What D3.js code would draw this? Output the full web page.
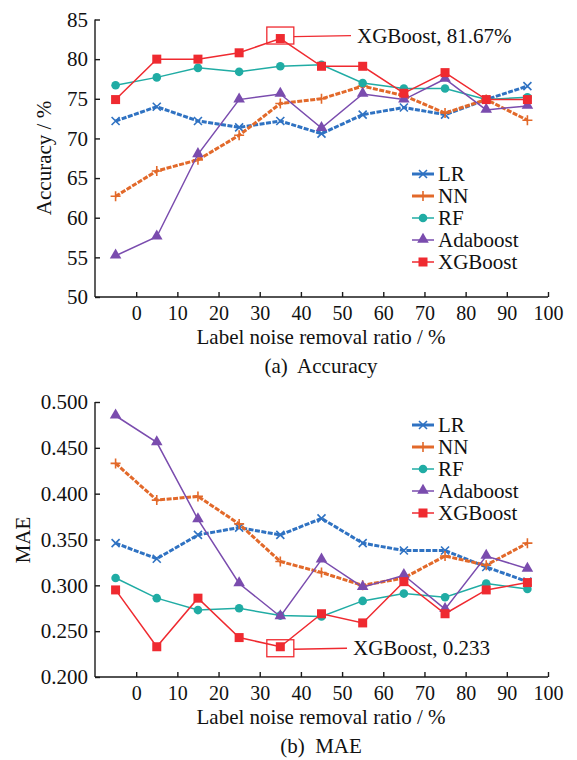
<!DOCTYPE html>
<html>
<head>
<meta charset="utf-8">
<script src="https://cdn.jsdelivr.net/npm/d3@7"></script>
<style>
  body { margin: 0; background: #fff; }
  svg text { font-family: "Liberation Serif", "Times New Roman", serif; fill: #111; }
</style>
</head>
<body>
<svg id="chart" width="577" height="760"></svg>
<script>
var ratios = [-5, 5, 15, 25, 35, 45, 55, 65, 75, 85, 95];
var xTicks = [0, 10, 20, 30, 40, 50, 60, 70, 80, 90, 100];
var models = ['LR', 'NN', 'RF', 'Adaboost', 'XGBoost'];

var accLR   = [72.2, 74.0, 72.2, 71.4, 72.2, 70.6, 73.0, 73.9, 73.0, 74.9, 76.6];
var accNN   = [62.7, 65.9, 67.3, 70.4, 74.4, 75.0, 76.6, 75.4, 73.2, 74.9, 72.3];
var accRF   = [76.7, 77.7, 78.9, 78.4, 79.1, 79.3, 77.0, 76.3, 76.3, 74.9, 75.2];
var accAda  = [55.2, 57.6, 68.0, 74.9, 75.6, 71.3, 75.6, 74.9, 77.5, 73.6, 74.1];
var accXGB  = [74.9, 80.0, 80.0, 80.8, 82.6, 79.1, 79.1, 75.7, 78.3, 74.9, 74.9];
var accTicks = [50, 55, 60, 65, 70, 75, 80, 85];

var maeLR   = [0.346, 0.329, 0.355, 0.363, 0.355, 0.373, 0.346, 0.338, 0.338, 0.320, 0.304];
var maeNN   = [0.433, 0.393, 0.397, 0.367, 0.326, 0.314, 0.300, 0.308, 0.332, 0.322, 0.346];
var maeRF   = [0.308, 0.286, 0.273, 0.275, 0.267, 0.266, 0.283, 0.291, 0.287, 0.302, 0.296];
var maeAda  = [0.485, 0.456, 0.372, 0.302, 0.266, 0.328, 0.298, 0.311, 0.274, 0.332, 0.318];
var maeXGB  = [0.295, 0.233, 0.286, 0.243, 0.233, 0.269, 0.259, 0.304, 0.269, 0.295, 0.303];
var maeTicks = [0.200, 0.250, 0.300, 0.350, 0.400, 0.450, 0.500];

var colors = {LR: '#2f72c2', NN: '#e2692a', RF: '#20aca4', Adaboost: '#7a4cae', XGBoost: '#ef2a30'};
var widths = {LR: 3, NN: 3, RF: 1.5, Adaboost: 1.5, XGBoost: 1.5};

var svg = d3.select('#chart'),
    x = d3.scaleLinear().domain([-10, 100]).range([95, 548]);

function marker(g, name, cx, cy) {
  var c = colors[name];
  if (name === 'LR') {
    g.append('path').attr('d', 'M' + (cx - 4) + ',' + (cy - 4) + 'L' + (cx + 4) + ',' + (cy + 4) +
      'M' + (cx - 4) + ',' + (cy + 4) + 'L' + (cx + 4) + ',' + (cy - 4))
      .attr('stroke', c).attr('stroke-width', 1.6).attr('fill', 'none');
  } else if (name === 'NN') {
    g.append('path').attr('d', 'M' + (cx - 5) + ',' + cy + 'L' + (cx + 5) + ',' + cy +
      'M' + cx + ',' + (cy - 5) + 'L' + cx + ',' + (cy + 5))
      .attr('stroke', c).attr('stroke-width', 1.6).attr('fill', 'none');
  } else if (name === 'RF') {
    g.append('circle').attr('cx', cx).attr('cy', cy).attr('r', 4.3).attr('fill', c);
  } else if (name === 'Adaboost') {
    g.append('path').attr('d', d3.symbol().type(d3.symbolTriangle).size(58)())
      .attr('transform', 'translate(' + cx + ',' + (cy - 0.5) + ')').attr('fill', c);
  } else {
    g.append('rect').attr('x', cx - 4.5).attr('y', cy - 4.5).attr('width', 9).attr('height', 9).attr('fill', c);
  }
}

function panel(opt) {
  var y = d3.scaleLinear().domain(opt.domain).range(opt.range),
      g = svg.append('g'),
      bottom = opt.range[0];

  g.append('g').attr('transform', 'translate(0,' + bottom + ')')
    .call(d3.axisBottom(x).tickValues(xTicks).tickSize(-5).tickPadding(9).tickFormat(d3.format('d')))
    .call(function(a) {
      a.select('.domain').attr('d', 'M' + x.range()[0] + ',0H' + x.range()[1]).attr('stroke', '#1a1a1a').attr('stroke-width', 1.4);
      a.selectAll('.tick line').attr('stroke', '#1a1a1a').attr('stroke-width', 1.4);
      a.selectAll('text').attr('font-size', 20).attr('font-family', 'Liberation Serif');
    });

  g.append('g').attr('transform', 'translate(' + x.range()[0] + ',0)')
    .call(d3.axisLeft(y).tickValues(opt.ticks).tickSize(-5).tickPadding(7).tickFormat(d3.format(opt.fmt)))
    .call(function(a) {
      a.select('.domain').attr('d', 'M0,' + opt.range[0] + 'V' + opt.range[1]).attr('stroke', '#1a1a1a').attr('stroke-width', 1.4);
      a.selectAll('.tick line').attr('stroke', '#1a1a1a').attr('stroke-width', 1.4);
      a.selectAll('text').attr('font-size', 21).attr('font-family', 'Liberation Serif');
    });

  var line = d3.line().x(function(d, i) { return x(ratios[i]); }).y(function(d) { return y(d); });

  opt.series.forEach(function(vals, k) {
    var name = models[k],
        s = g.append('g');
    s.append('path').datum(vals).attr('d', line).attr('fill', 'none')
      .attr('stroke', colors[name]).attr('stroke-width', widths[name])
      .attr('stroke-dasharray', widths[name] > 2 ? '5,1.5' : null);
    vals.forEach(function(v, i) { marker(s, name, x(ratios[i]), y(v)); });
  });

  // highlighted best XGBoost point
  var bx = x(ratios[opt.best]), by = y(opt.series[4][opt.best]) + opt.boxShift;
  g.append('rect').attr('x', bx - 13.5).attr('y', by - 8.5).attr('width', 27).attr('height', 17)
    .attr('fill', 'none').attr('stroke', colors.XGBoost).attr('stroke-width', 1.3);
  g.append('line').attr('x1', bx + 13.5).attr('y1', by + 1).attr('x2', opt.labelX - 6).attr('y2', by)
    .attr('stroke', colors.XGBoost).attr('stroke-width', 1.3);
  g.append('text').attr('x', opt.labelX).attr('y', by + 7).attr('font-size', 21).text(opt.label);

  // legend
  var lg = g.append('g');
  models.forEach(function(name, k) {
    var ly = opt.legendY + k * 22;
    lg.append('line').attr('x1', 412).attr('x2', 434).attr('y1', ly).attr('y2', ly)
      .attr('stroke', colors[name]).attr('stroke-width', widths[name]);
    marker(lg, name, 423, ly);
    lg.append('text').attr('x', 438).attr('y', ly + 7).attr('font-size', 21).text(name);
  });

  g.append('text').attr('x', 321).attr('y', opt.titleY).attr('text-anchor', 'middle')
    .attr('font-size', 21).text('Label noise removal ratio / %');
  g.append('text').attr('x', 321).attr('y', opt.titleY + 29).attr('text-anchor', 'middle')
    .attr('font-size', 21).attr('xml:space', 'preserve').text(opt.caption);
  g.append('text').attr('transform', 'translate(' + opt.yLabelX + ',' + opt.yLabelY + ') rotate(-90)')
    .attr('text-anchor', 'middle').attr('font-size', 21).text(opt.yLabel);
}

panel({
  domain: [50, 85], range: [297, 19.5], ticks: accTicks, fmt: 'd',
  series: [accLR, accNN, accRF, accAda, accXGB], best: 4, boxShift: -3,
  label: 'XGBoost, 81.67%', labelX: 357, legendY: 174,
  titleY: 344, caption: '(a)  Accuracy', yLabel: 'Accuracy / %', yLabelX: 51, yLabelY: 158
});

panel({
  domain: [0.2, 0.5], range: [677, 402], ticks: maeTicks, fmt: '.3f',
  series: [maeLR, maeNN, maeRF, maeAda, maeXGB], best: 4, boxShift: 1.5,
  label: 'XGBoost, 0.233', labelX: 353, legendY: 425,
  titleY: 724, caption: '(b)  MAE', yLabel: 'MAE', yLabelX: 30, yLabelY: 540
});
</script>
</body>
</html>
